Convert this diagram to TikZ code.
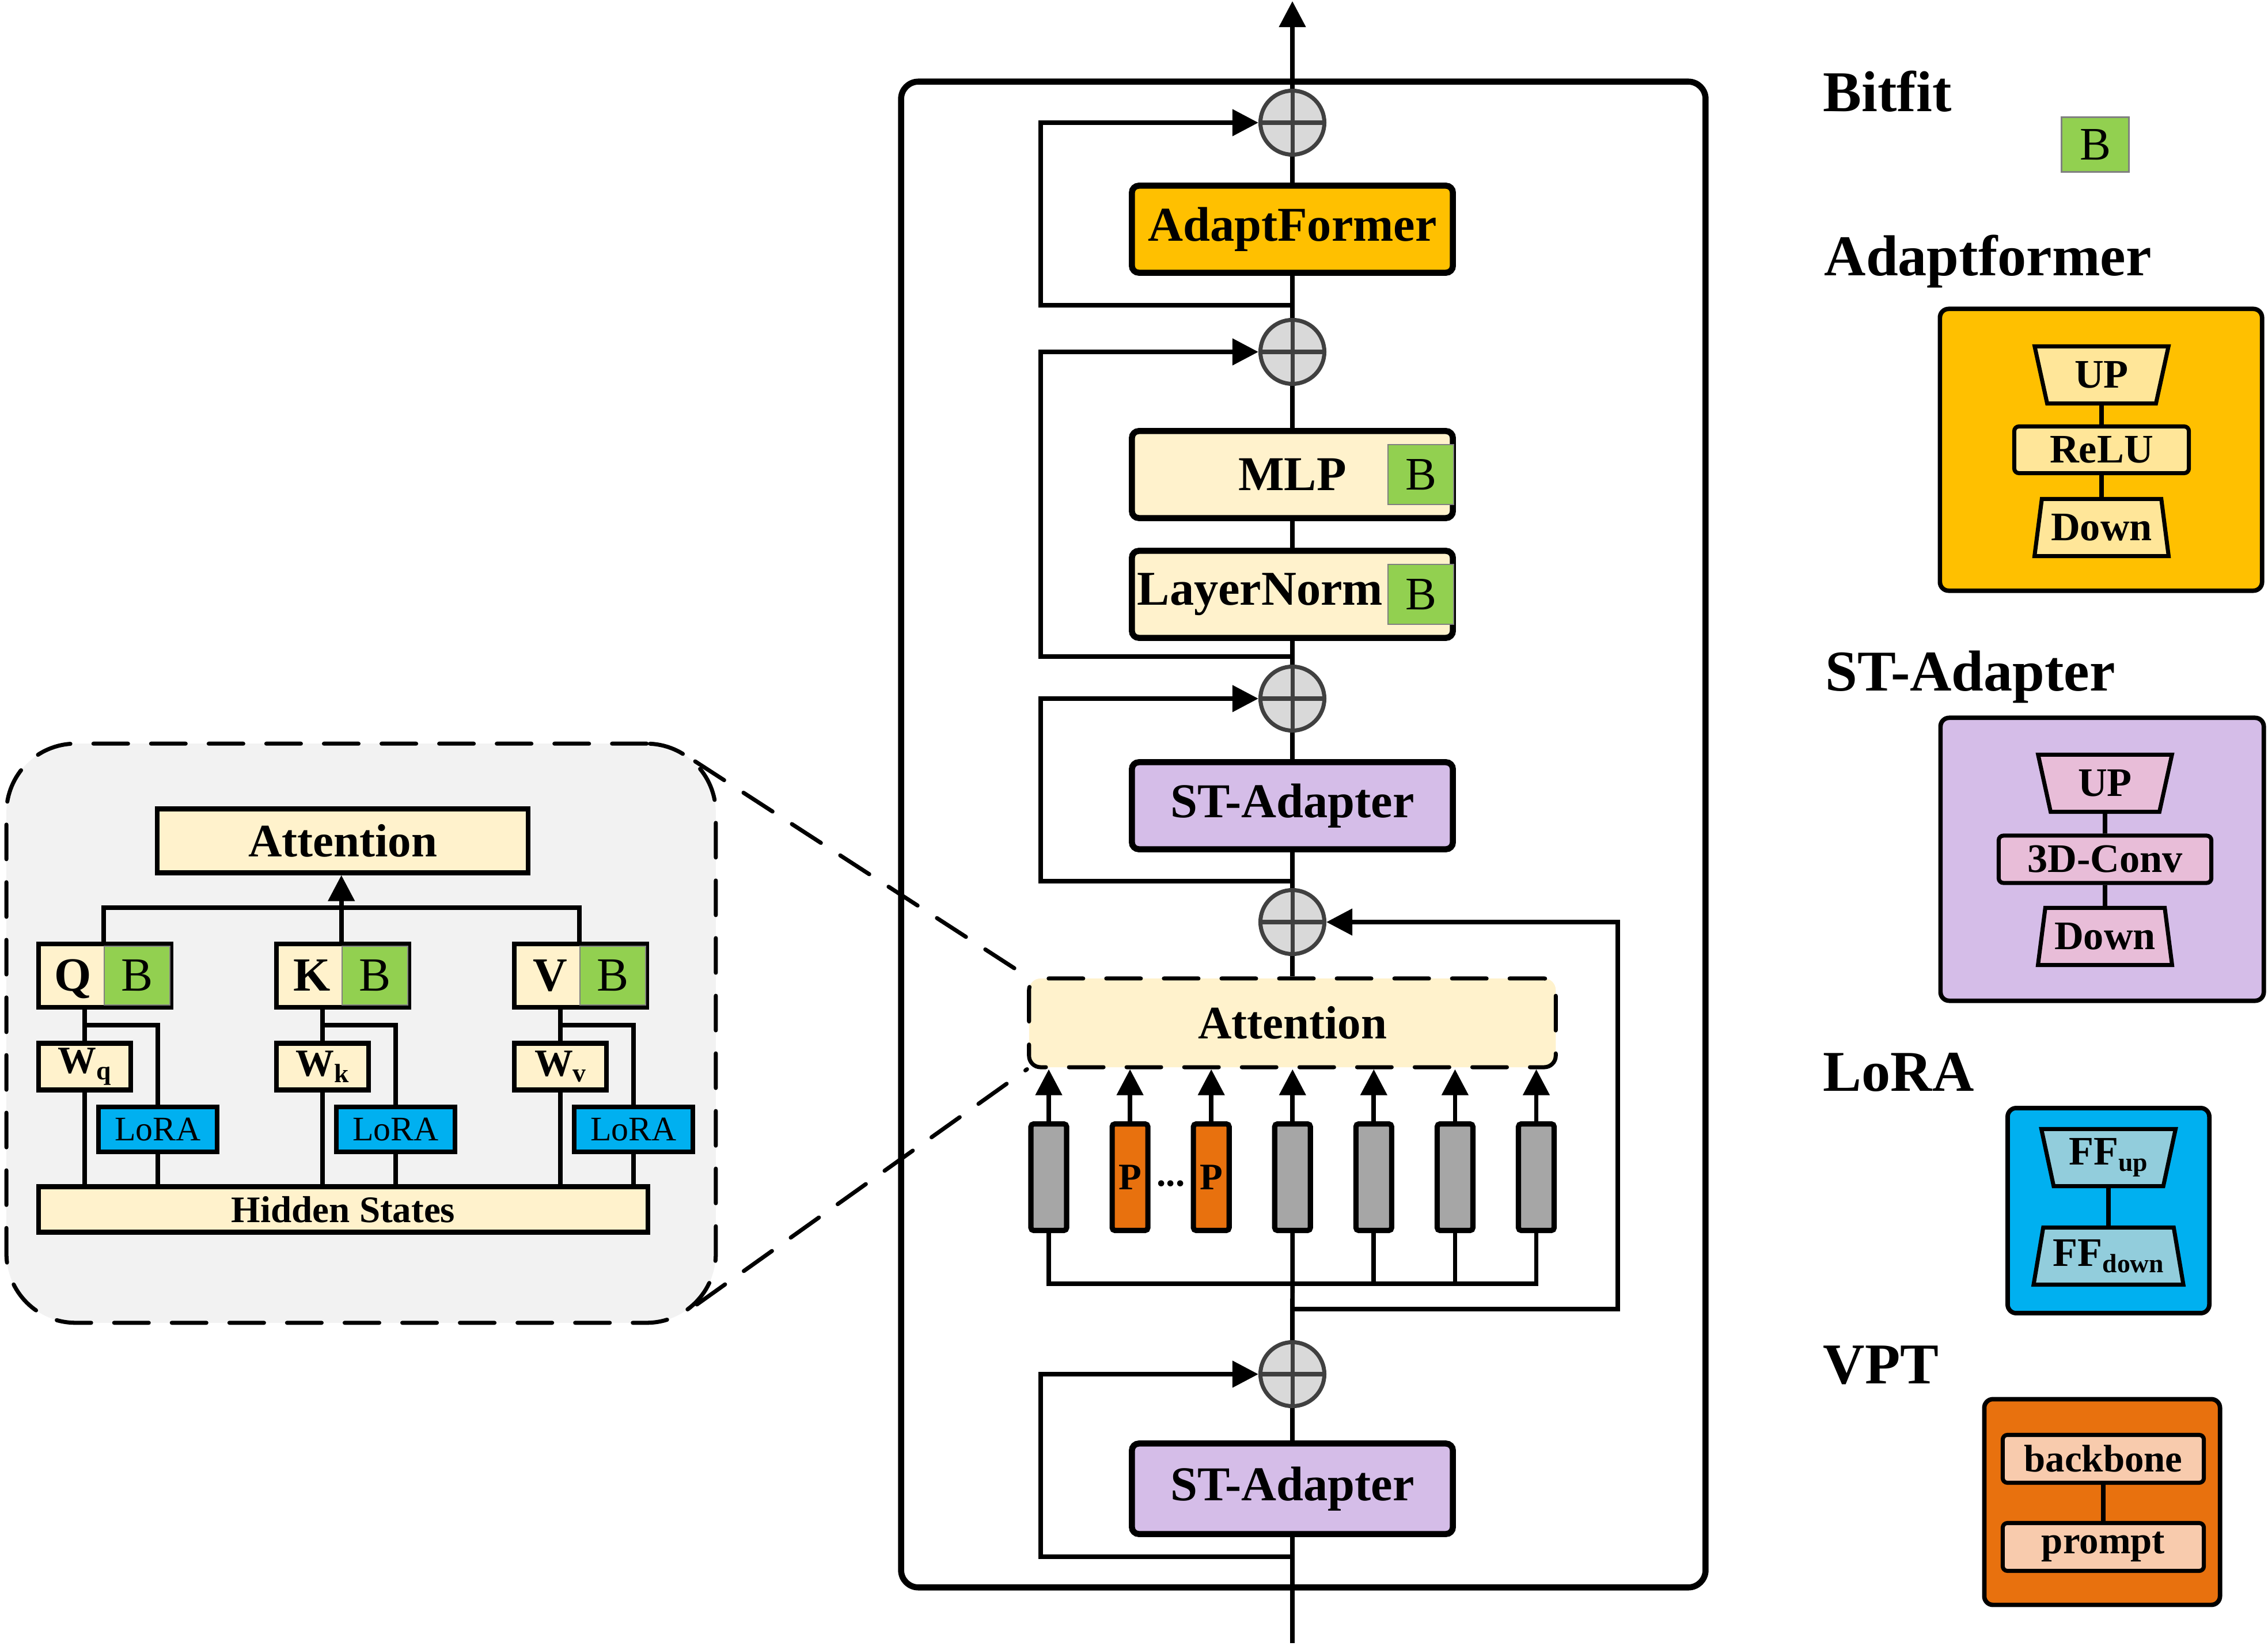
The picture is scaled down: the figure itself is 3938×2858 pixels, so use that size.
\documentclass[tikz,border=0pt]{standalone}
\usepackage{fontspec}
\setmainfont{Liberation Serif}
\usepackage{tikz}
\usetikzlibrary{shapes.geometric, arrows.meta}

\definecolor{cream}{HTML}{FFF2CC}
\definecolor{biasgreen}{HTML}{92D050}
\definecolor{afyellow}{HTML}{FFC000}
\definecolor{afinner}{HTML}{FFE699}
\definecolor{stpurple}{HTML}{D5BDE8}
\definecolor{stinner}{HTML}{E8BDD8}
\definecolor{lorablue}{HTML}{00B0F0}
\definecolor{lorainner}{HTML}{92CDDC}
\definecolor{vptorange}{HTML}{E8710E}
\definecolor{vptinner}{HTML}{F8CBAD}
\definecolor{tokgray}{HTML}{A6A6A6}
\definecolor{addgray}{HTML}{D9D9D9}
\definecolor{ringgray}{HTML}{404040}
\definecolor{panelgray}{HTML}{F2F2F2}

\newcommand{\setfs}[1]{\fontsize{#1}{#1}\selectfont}
\newcommand{\lowsub}[1]{\raisebox{-3pt}{\setfs{13}#1}}

\begin{document}
\begin{tikzpicture}[x=0.01cm, y=-0.01cm, node distance=1.41cm]
    \tikzstyle{blk} = [rectangle, rounded corners=0.12cm, minimum width=5.57cm, minimum height=1.51cm, inner sep=0pt, draw=black, line width=3pt, font=\setfs{24}\bfseries]
\tikzstyle{bias} = [rectangle, minimum width=1.14cm, minimum height=1.04cm, inner sep=0pt, draw=black!50, line width=0.7pt, fill=biasgreen, font=\setfs{23}]
\tikzstyle{addnode} = [circle, minimum size=1.11cm, inner sep=0pt, draw=ringgray, line width=2pt, fill=addgray, path picture={\draw[ringgray, line width=2pt] (path picture bounding box.north) -- (path picture bounding box.south) (path picture bounding box.west) -- (path picture bounding box.east);}]
\tikzstyle{tok} = [rectangle, rounded corners=0.05cm, minimum width=0.62cm, minimum height=1.85cm, inner sep=0pt, draw=black, line width=2.6pt, fill=tokgray]
\tikzstyle{ptok} = [tok, fill=vptorange, font=\setfs{18.5}\bfseries]
\tikzstyle{wire} = [line width=2.2pt]
\tikzstyle{arrow} = [line width=2.2pt, -{Triangle[length=0.45cm, width=0.45cm]}]
\tikzstyle{zoomline} = [line width=2pt, line cap=round, dash pattern=on 0.6cm off 0.4cm]
\tikzstyle{cell} = [rectangle, inner sep=0pt, draw=black, line width=2.3pt, fill=cream]
\tikzstyle{legtitle} = [anchor=base west, inner sep=0pt, font=\setfs{28.5}\bfseries]
\tikzstyle{legbox} = [rectangle, rounded corners=0.15cm, inner sep=0pt, draw=black, line width=2.2pt]
\tikzstyle{legrow} = [rectangle, rounded corners=0.08cm, inner sep=0pt, draw=black, line width=2pt, minimum height=0.81cm, font=\setfs{20}\bfseries]
\tikzstyle{trapup} = [trapezium, shape border rotate=180, trapezium left angle=77, trapezium right angle=77, trapezium stretches=true, inner sep=0pt, draw=black, line width=2pt, minimum width=2.33cm, minimum height=0.99cm, font=\setfs{20}\bfseries]
\tikzstyle{trapdown} = [trapup, shape border rotate=0]

\useasboundingbox (0,0) rectangle (3938,2858);

    \node (blk) [rectangle, rounded corners=0.3cm, draw=black, line width=3pt, minimum width=13.96cm, minimum height=26.13cm] at (2263,1449) {};
\node (zoom) [zoomline, rectangle, rounded corners=1.2cm, draw=black, fill=panelgray, minimum width=12.31cm, minimum height=10.05cm] at (627,1794) {};

\node (p1) [addnode] at (2244,213) {};
\node (adapt) [blk, fill=afyellow] at (2244,398) {AdaptFormer};
\node (p2) [addnode] at (2244,611) {};
\node (mlp) [blk, fill=cream] at (2244,824) {MLP};
\node (mlpb) [bias] at (2467,824) {B};
\node (ln) [blk, fill=cream] at (2244,1032) {LayerNorm\rule{1.12cm}{0pt}};
\node (lnb) [bias] at (2467,1032) {B};
\node (p3) [addnode] at (2244,1213) {};
\node (st1) [blk, fill=stpurple] at (2244,1399) {ST-Adapter};
\node (p4) [addnode] at (2244,1601) {};
\node (att) [zoomline, rectangle, rounded corners=0.2cm, draw=black, fill=cream, minimum width=9.14cm, minimum height=1.54cm, font=\setfs{23}\bfseries] at (2244,1776) {Attention};
\node (tok1) [tok] at (1821,2044) {};
\node (tok2) [ptok, right of=tok1] {P};
\node (tok3) [ptok, right of=tok2] {P};
\node (tok4) [tok, right of=tok3] {};
\node (tok5) [tok, right of=tok4] {};
\node (tok6) [tok, right of=tok5] {};
\node (tok7) [tok, right of=tok6] {};
\node (dots) [anchor=base, inner sep=0pt, font=\setfs{18.5}\bfseries] at (2033,2059) {...};
\node (p5) [addnode] at (2244,2386) {};
\node (st2) [blk, fill=stpurple, minimum height=1.57cm] at (2244,2585) {ST-Adapter};

\coordinate (in) at (2244,2853);
\coordinate (out) at (2244,2);
\coordinate (c1) at (2244,530);
\coordinate (c2) at (2244,1140);
\coordinate (c3) at (2244,1530);
\coordinate (c5) at (2244,2703);
\coordinate (bus) at (2244,2229);
\coordinate (br) at (2244,2273);

\draw[wire] (in) -- (st2.south);
\draw[wire] (st2.north) -- (p5.south);
\draw[wire] (p5.north) -- (tok4.south);
\draw[wire] (tok1.south) -- (tok1.south |- bus) -- (tok7.south |- bus) -- (tok7.south);
\draw[wire] (tok5.south) -- (tok5.south |- bus);
\draw[wire] (tok6.south) -- (tok6.south |- bus);

\draw[arrow] (tok1.north) -- (tok1.north |- att.south);
\draw[arrow] (tok2.north) -- (tok2.north |- att.south);
\draw[arrow] (tok3.north) -- (tok3.north |- att.south);
\draw[arrow] (tok4.north) -- (tok4.north |- att.south);
\draw[arrow] (tok5.north) -- (tok5.north |- att.south);
\draw[arrow] (tok6.north) -- (tok6.north |- att.south);
\draw[arrow] (tok7.north) -- (tok7.north |- att.south);

\draw[wire] (att.north) -- (p4.south);
\draw[wire] (p4.north) -- (st1.south);
\draw[wire] (st1.north) -- (p3.south);
\draw[wire] (p3.north) -- (ln.south);
\draw[wire] (ln.north) -- (mlp.south);
\draw[wire] (mlp.north) -- (p2.south);
\draw[wire] (p2.north) -- (adapt.south);
\draw[wire] (adapt.north) -- (p1.south);
\draw[arrow] (p1.north) -- (out);

  \draw[arrow] (c1) -- ++(-437,0) |- (p1.west);
\draw[arrow] (c2) -- ++(-437,0) |- (p2.west);
\draw[arrow] (c3) -- ++(-437,0) |- (p3.west);
\draw[arrow] (c5) -- ++(-437,0) |- (p5.west);
\draw[arrow] (br) -- ++(565,0) |- (p4.east);

\coordinate (zt) at (1207,1322);
\coordinate (zb) at (1210,2265);
\draw[zoomline] (zt) -- (att.north west);
\draw[zoomline] (zb) -- (att.south west);

\node (latt) [cell, minimum width=6.44cm, minimum height=1.11cm, font=\setfs{23}\bfseries] at (595,1460) {Attention};
\node (q) [cell, minimum width=2.29cm, minimum height=1.10cm] at (182,1694) {};
\node (qb) [bias, minimum height=1.02cm, font=\setfs{23.5}] at (238,1694) {B};
\node (ql) [anchor=base, inner sep=0pt, font=\setfs{23.5}\bfseries] at (127,1720) {Q};
\node (k) [cell, minimum width=2.29cm, minimum height=1.10cm] at (595,1694) {};
\node (kb) [bias, minimum height=1.02cm, font=\setfs{23.5}] at (651,1694) {B};
\node (kl) [anchor=base, inner sep=0pt, font=\setfs{23.5}\bfseries] at (542,1720) {K};
\node (v) [cell, minimum width=2.29cm, minimum height=1.10cm] at (1008,1694) {};
\node (vb) [bias, minimum height=1.02cm, font=\setfs{23.5}] at (1064,1694) {B};
\node (vl) [anchor=base, inner sep=0pt, font=\setfs{23.5}\bfseries] at (955,1720) {V};
\node (wq) [cell, minimum width=1.60cm, minimum height=0.81cm, font=\setfs{19}\bfseries] at (147,1852) {W\lowsub{q}};
\node (wk) [cell, minimum width=1.60cm, minimum height=0.81cm, font=\setfs{19}\bfseries] at (560,1852) {W\lowsub{k}};
\node (wv) [cell, minimum width=1.60cm, minimum height=0.81cm, font=\setfs{19}\bfseries] at (973,1852) {W\lowsub{v}};
\node (lq) [cell, fill=lorablue, minimum width=2.05cm, minimum height=0.78cm, font=\setfs{17}] at (274,1961) {LoRA};
\node (lk) [cell, fill=lorablue, minimum width=2.05cm, minimum height=0.78cm, font=\setfs{17}] at (687,1961) {LoRA};
\node (lv) [cell, fill=lorablue, minimum width=2.05cm, minimum height=0.78cm, font=\setfs{17}] at (1100,1961) {LoRA};
\node (hs) [cell, minimum width=10.57cm, minimum height=0.79cm, font=\setfs{18.5}\bfseries] at (596,2100) {Hidden States};

\coordinate (lbus) at (595,1576);
\draw[wire] (q.north -| qb.west) |- (lbus) -| (v.north -| vb.west);
\draw[arrow] (k.north -| kb.west) -- (latt.south -| kb.west);
\draw[wire] (q.south -| wq.north) -- (wq.north);
\draw[wire] (wq.south) -- (hs.north -| wq.south);
\draw[wire] (q.south -| wq.north) ++(0,27) -| (lq.north);
\draw[wire] (lq.south) -- (hs.north -| lq.south);
\draw[wire] (k.south -| wk.north) -- (wk.north);
\draw[wire] (wk.south) -- (hs.north -| wk.south);
\draw[wire] (k.south -| wk.north) ++(0,27) -| (lk.north);
\draw[wire] (lk.south) -- (hs.north -| lk.south);
\draw[wire] (v.south -| wv.north) -- (wv.north);
\draw[wire] (wv.south) -- (hs.north -| wv.south);
\draw[wire] (v.south -| wv.north) ++(0,27) -| (lv.north);
\draw[wire] (lv.south) -- (hs.north -| lv.south);

\node (bitfit) [legtitle] at (3165,194) {Bitfit};
\node (legb) [bias, minimum width=1.17cm, minimum height=0.95cm] at (3638,251) {B};

\node (afname) [legtitle] at (3167,479) {Adaptformer};
\node (legaf) [legbox, fill=afyellow, minimum width=5.59cm, minimum height=4.89cm] at (3648,781) {};
\node (afup) [trapup, fill=afinner] at (3649,651) {UP};
\node (afrelu) [legrow, fill=afinner, minimum width=3.03cm] at (3649,781) {ReLU};
\node (afdown) [trapdown, fill=afinner] at (3649,916) {Down};
\draw[wire] (afup) -- (afrelu);
\draw[wire] (afrelu) -- (afdown);

\node (stname) [legtitle] at (3169,1199) {ST-Adapter};
\node (legst) [legbox, fill=stpurple, minimum width=5.61cm, minimum height=4.91cm] at (3650,1492) {};
\node (stup) [trapup, fill=stinner] at (3655,1360) {UP};
\node (stconv) [legrow, fill=stinner, minimum width=3.69cm, minimum height=0.82cm] at (3655,1492) {3D-Conv};
\node (stdown) [trapdown, fill=stinner] at (3655,1626) {Down};
\draw[wire] (stup) -- (stconv);
\draw[wire] (stconv) -- (stdown);

\node (loname) [legtitle] at (3165,1894) {LoRA};
\node (leglo) [legbox, fill=lorablue, minimum width=3.50cm, minimum height=3.56cm] at (3661,2102) {};
\node (ffup) [trapup, fill=lorainner] at (3661,2010) {FF\lowsub{up}};
\node (ffdown) [trapdown, fill=lorainner, trapezium left angle=76, trapezium right angle=76, minimum width=2.60cm] at (3661,2181) {FF\lowsub{down}};
\draw[wire] (ffup) -- (ffdown);

\node (vptname) [legtitle] at (3165,2402) {VPT};
\node (legvpt) [legbox, fill=vptorange, minimum width=4.09cm, minimum height=3.57cm] at (3650,2608) {};
\node (bb) [legrow, fill=vptinner, minimum width=3.49cm, minimum height=0.83cm, font=\setfs{19}\bfseries] at (3652,2533) {backbone};
\node (pr) [legrow, fill=vptinner, minimum width=3.49cm, minimum height=0.83cm, font=\setfs{19}\bfseries] at (3652,2686) {prompt};
\draw[wire] (bb) -- (pr);
  \end{tikzpicture}
\end{document}
